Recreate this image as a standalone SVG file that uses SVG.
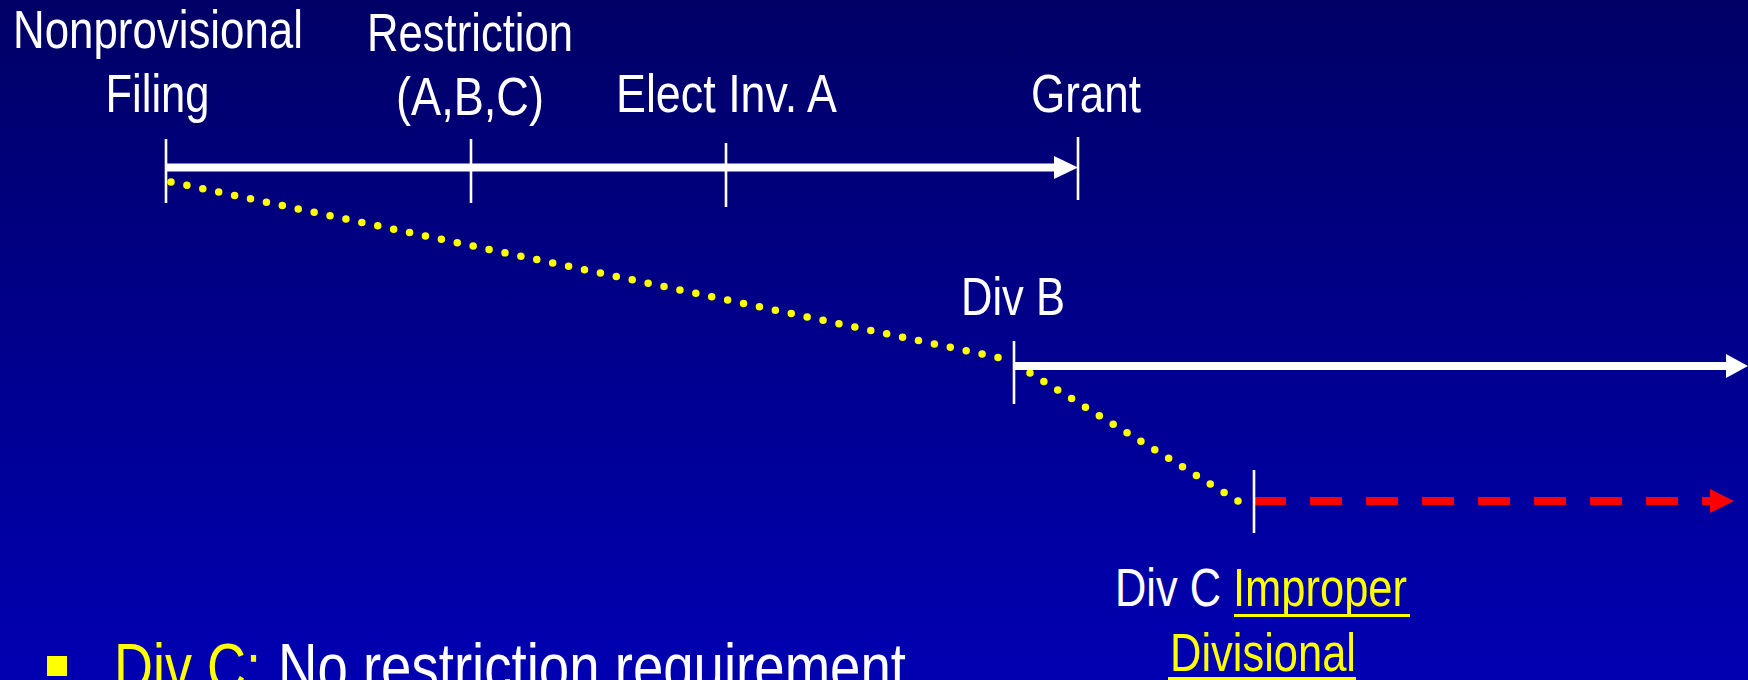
<svg xmlns="http://www.w3.org/2000/svg" width="1748" height="680" viewBox="0 0 1748 680">
<defs>
<linearGradient id="bg" x1="0" y1="0" x2="0" y2="1">
<stop offset="0" stop-color="#000066"/>
<stop offset="1" stop-color="#0000B2"/>
</linearGradient>
<style>
text{font-family:"Liberation Sans Narrow","Liberation Sans",Arial,sans-serif;fill:#FFFFFF;}
.lbl{font-size:53px;}
.big{font-size:66px;}
.yel{fill:#FFFF00;}
.tick{stroke:#FFFFFF;stroke-width:2.6;fill:none;}
.tl{stroke:#FFFFFF;stroke-width:8;fill:none;}
.head{fill:#FFFFFF;}
.dots{stroke:#FFFF00;stroke-width:7.5;stroke-linecap:round;fill:none;}
.red{stroke:#FF0000;stroke-width:8;stroke-dasharray:32 24;fill:none;}
.redhead{fill:#FF0000;}
.ul{fill:#FFFF00;}
</style>
</defs>
<rect x="0" y="0" width="1748" height="680" fill="url(#bg)"/>

<g id="connectors">
<line class="dots" x1="171" y1="182" x2="998.5" y2="357.6" stroke-dasharray="0 16.258"/>
<line class="dots" x1="1030" y1="373" x2="1238.4" y2="501.25" stroke-dasharray="0 16.28"/>
<line class="tl" x1="166" y1="167.5" x2="1055" y2="167.5"/>
<polygon class="head" points="1054,156 1078,167.5 1054,179"/>
<line class="tl" x1="1014" y1="366" x2="1727" y2="366"/>
<polygon class="head" points="1726,354 1748,366 1726,378"/>
<line class="red" x1="1254" y1="501" x2="1712" y2="501"/>
<polygon class="redhead" points="1710,489 1734,501 1710,513"/>
</g>

<g id="node-filing">
<line class="tick" x1="166" y1="139" x2="166" y2="203"/>
<text class="lbl" x="13" y="48" textLength="290" lengthAdjust="spacingAndGlyphs">Nonprovisional</text>
<text class="lbl" x="105.5" y="112" textLength="104" lengthAdjust="spacingAndGlyphs">Filing</text>
</g>

<g id="node-restriction">
<line class="tick" x1="471" y1="139" x2="471" y2="203"/>
<text class="lbl" x="367" y="51" textLength="206" lengthAdjust="spacingAndGlyphs">Restriction</text>
<text class="lbl" x="396" y="115" textLength="148" lengthAdjust="spacingAndGlyphs">(A,B,C)</text>
</g>

<g id="node-elect">
<line class="tick" x1="726" y1="143" x2="726" y2="207"/>
<text class="lbl" x="616" y="112" textLength="221" lengthAdjust="spacingAndGlyphs">Elect Inv. A</text>
</g>

<g id="node-grant">
<line class="tick" x1="1078" y1="137" x2="1078" y2="200"/>
<text class="lbl" x="1031" y="112" textLength="110" lengthAdjust="spacingAndGlyphs">Grant</text>
</g>

<g id="node-divb">
<line class="tick" x1="1014" y1="341" x2="1014" y2="404"/>
<text class="lbl" x="961" y="315" textLength="104" lengthAdjust="spacingAndGlyphs">Div B</text>
</g>

<g id="node-divc">
<line class="tick" x1="1254" y1="470" x2="1254" y2="533"/>
<text class="lbl" x="1115" y="606" textLength="106" lengthAdjust="spacingAndGlyphs">Div C</text>
<text class="lbl yel" x="1233" y="606" textLength="174" lengthAdjust="spacingAndGlyphs">Improper</text>
<rect class="ul" x="1234" y="614" width="176" height="3"/>
<text class="lbl yel" x="1170" y="671" textLength="186" lengthAdjust="spacingAndGlyphs">Divisional</text>
<rect class="ul" x="1168" y="677" width="188" height="3"/>
</g>

<g id="bullet">
<rect x="47" y="656" width="20" height="20" fill="#FFFF00"/>
<text class="big yel" x="114" y="690" textLength="147" lengthAdjust="spacingAndGlyphs">Div C:</text>
<text class="big" x="278" y="690" textLength="628" lengthAdjust="spacingAndGlyphs">No restriction requirement</text>
</g>
</svg>
